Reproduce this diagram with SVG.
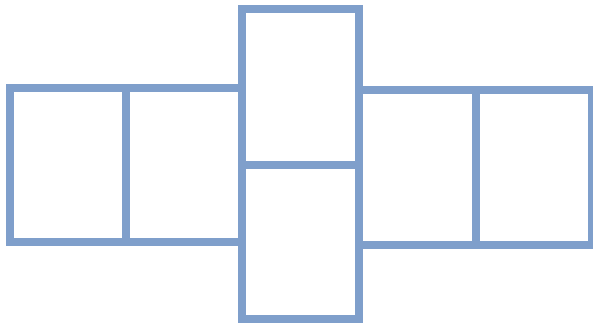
<svg xmlns="http://www.w3.org/2000/svg" width="593" height="323" viewBox="0 0 593 323">
<style>
.box{fill:#ffffff;stroke:#7F9FCB;stroke-width:8}
</style>
<rect width="593" height="323" fill="#ffffff"/>
<g id="left1"><rect class="box" x="10" y="88" width="116" height="154"/></g>
<g id="left2"><rect class="box" x="126" y="88" width="116" height="154"/></g>
<g id="right1"><rect class="box" x="359" y="90" width="117" height="155"/></g>
<g id="right2"><rect class="box" x="476" y="90" width="116" height="155"/></g>
<g id="top"><rect class="box" x="242" y="9" width="117" height="156"/></g>
<g id="bottom"><rect class="box" x="242" y="165" width="117" height="154"/></g>
<g id="connectors"></g>
</svg>
